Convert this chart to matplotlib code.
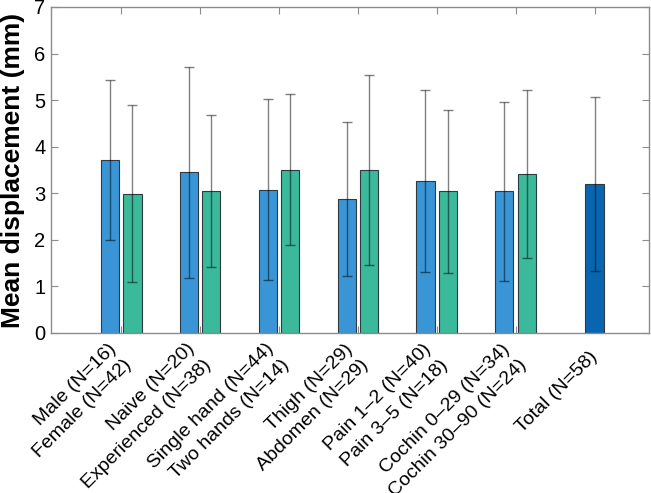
import matplotlib
matplotlib.use('Agg')
import matplotlib.pyplot as plt
import matplotlib.transforms as mtransforms
import numpy as np

plt.rcParams['font.family'] = ['Liberation Sans', 'DejaVu Sans']

# group labels (two subgroups per tick, last one is the total)
labels = [
    'Male (N=16)\nFemale (N=42)',
    'Naive (N=20)\nExperienced (N=38)',
    'Single hand (N=44)\nTwo hands (N=14)',
    'Thigh (N=29)\nAbdomen (N=29)',
    'Pain 1\u20132 (N=40)\nPain 3\u20135 (N=18)',
    'Cochin 0\u201329 (N=34)\nCochin 30\u201390 (N=24)',
    'Total (N=58)',
]
first_mean = [3.72, 3.45, 3.08, 2.88, 3.26, 3.04]
first_sd = [1.72, 2.27, 1.95, 1.65, 1.95, 1.93]
second_mean = [2.99, 3.05, 3.51, 3.50, 3.04, 3.41]
second_sd = [1.90, 1.64, 1.63, 2.04, 1.75, 1.80]
total_mean = 3.20
total_sd = 1.87

COLORS = {
    'first': '#3a95d7',
    'second': '#3bb99b',
    'total': '#0965b0',
    'edge': '#2e3a40',
    'axis': '#8c8c8c',
}

fig = plt.figure(figsize=(6.51, 4.93), dpi=100)
ax = fig.add_axes([51 / 651, 160 / 493, 598 / 651, 326 / 493])

x = np.arange(1, len(first_mean) + 1)
w = 0.23
off = 0.143

ax.bar(x - off, first_mean, w, color=COLORS['first'], edgecolor=COLORS['edge'], linewidth=0.8, zorder=2)
ax.bar(x + off, second_mean, w, color=COLORS['second'], edgecolor=COLORS['edge'], linewidth=0.8, zorder=2)
xt = len(labels)
ax.bar([xt], [total_mean], w, color=COLORS['total'], edgecolor=COLORS['edge'], linewidth=0.8, zorder=2)

err_kw = dict(fmt='none', ecolor=(0, 0, 0, 0.5), elinewidth=1.0, capsize=3.6, capthick=1.0, zorder=3)
ax.errorbar(x - off, first_mean, yerr=first_sd, **err_kw)
ax.errorbar(x + off, second_mean, yerr=second_sd, **err_kw)
ax.errorbar([xt], [total_mean], yerr=[total_sd], **err_kw)

ax.set_xlim(0.11, 7.69)
ax.set_ylim(0, 7)
ax.set_yticks(range(0, 8))
ax.set_xticks(range(1, xt + 1))
ax.set_xticklabels(labels, rotation=45, ha='right', va='center', rotation_mode='anchor',
                   fontsize=14, linespacing=1.45)
# nudge labels a little right like the original
offset = mtransforms.ScaledTranslation(3 / 100, 0, fig.dpi_scale_trans)
for lab in ax.get_xticklabels():
    lab.set_transform(lab.get_transform() + offset)

ax.tick_params(axis='both', direction='in', length=5, width=0.8, color=COLORS['axis'],
               labelsize=14.5, top=True, right=True)
ax.tick_params(axis='x', pad=15.5, labelsize=14)
ax.tick_params(axis='y', pad=4)
for s in ax.spines.values():
    s.set_color(COLORS['axis'])
    s.set_linewidth(1.0)

ax.set_ylabel('Mean displacement (mm)', fontsize=19, fontweight='bold')
ax.yaxis.set_label_coords(-0.043, 0.5)

plt.savefig('out.png', dpi=100, facecolor='white')
plt.close()
